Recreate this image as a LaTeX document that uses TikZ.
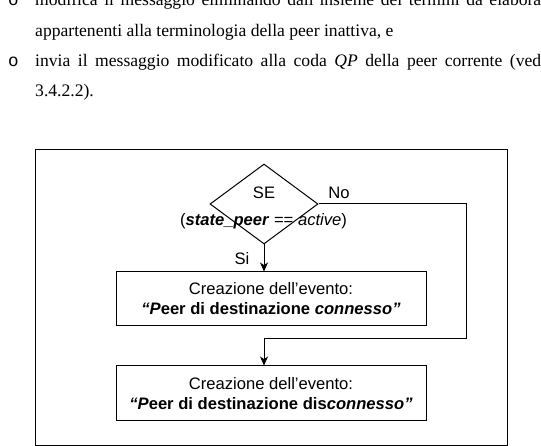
\documentclass[tikz,border=0pt]{standalone}
\usepackage{fontspec}
\setmainfont{Liberation Serif}
\newfontfamily\arialf{Liberation Sans}
\newfontfamily\courf{Liberation Mono}
\usetikzlibrary{shapes.geometric,arrows.meta}
\begin{document}
\begin{tikzpicture}[x=1pt,y=-1pt,
  body/.style={inner sep=0, anchor=base west, font=\fontsize{17.6}{21}\selectfont},
  bullet/.style={inner sep=0, anchor=base, font=\courf\fontsize{17.6}{21}\selectfont},
  dtext/.style={inner sep=0, anchor=base, font=\arialf\fontsize{16.6}{20}\selectfont},
  stepbox/.style={draw, line width=1pt, minimum width=310pt, minimum height=54pt, inner sep=0},
  conn/.style={line width=1pt},
  arr/.style={conn, -{Stealth[length=9pt,width=8pt,inset=2.5pt]}}]
\useasboundingbox (0,0) rectangle (541,446);
\clip (0,0) rectangle (541,446);
\fill[white] (0,0) rectangle (541,446);

% body text
\node[bullet] (b1) at (13.5,6) {o};
\node[body] (l1) at (35,6) {\makebox[506pt][s]{modifica il messaggio eliminando dall’insieme dei termini da elabora}};
\node[body] (l2) at (35,36.5) {appartenenti alla terminologia della peer inattiva, e};
\node[bullet] (b2) at (13.5,67) {o};
\node[body] (l3) at (35,67) {\makebox[506pt][s]{invia il messaggio modificato alla coda \textit{QP} della peer corrente (ved}};
\node[body] (l4) at (35,97) {3.4.2.2).};

% frame
\node[draw, line width=1pt, minimum width=472pt, minimum height=295pt, inner sep=0] (frame) at (271,297.5) {};

% decision
\node[diamond, draw, line width=1pt, minimum width=108pt, minimum height=80pt, inner sep=0] (dec) at (264,204) {};
\node[dtext] (se) at (264,199) {SE};
\node[dtext] (no) at (339,199) {No};
\node[dtext] (cond) at (263.5,226) {(\textbf{\textit{state\_peer}} == \textit{active})};
\node[dtext] (si) at (242,265) {Si};

% boxes
\node[stepbox] (box1) at (271,299) {};
\node[dtext] (t1a) at (271,295) {Creazione dell’evento:};
\node[dtext] (t1b) at (271,315) {\textbf{\textit{“P}eer di destinazione \textit{connesso”}}};

\node[stepbox] (box2) at (271,393) {};
\node[dtext] (t2a) at (271,389) {Creazione dell’evento:};
\node[dtext] (t2b) at (271,409) {\textbf{\textit{“P}eer di destinazione dis\textit{connesso”}}};

% connectors
\coordinate (c1) at (466,204);
\coordinate (c2) at (466,339);
\draw[arr] (dec.south) -- (dec.south |- box1.north);
\draw[arr] (dec.east) -- (c1) -- (c2) -- (c2 -| dec.south) -- (dec.south |- box2.north);
\end{tikzpicture}
\end{document}
